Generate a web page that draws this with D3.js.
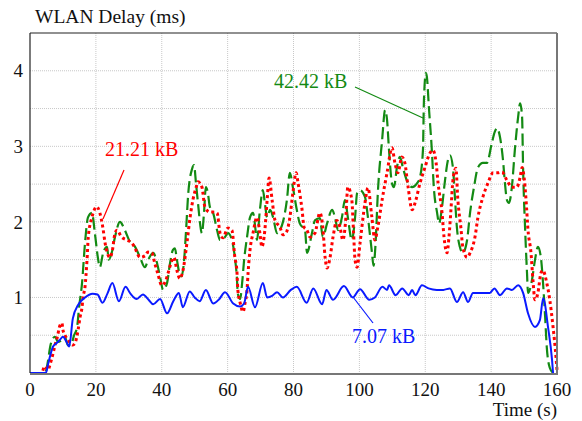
<!DOCTYPE html>
<meta charset="utf-8">
<body style="margin:0">
<svg width="582" height="421"></svg>
<script src="https://d3js.org/d3.v7.min.js"></script>
<script>

    // --- data (time in s, delay in ms) ---
    var xTicks = [0, 20, 40, 60, 80, 100, 120, 140, 160];
    var yTicks = [1, 2, 3, 4];

    var blueTime = [0, 4.8, 5.5, 7, 8.2, 9.1, 10, 11, 11.9, 13, 14.6, 16.7, 19, 20.5, 22, 23.5, 25, 27, 29, 30.5, 32.4, 34.3, 36, 37.4, 39.5, 41.6, 43.5, 45.2, 46.4, 48.5, 50, 51.5, 53.4, 55.6, 57.5, 59.2, 61.7, 63.8, 65, 66.2, 68.3, 70.7, 72, 73.5, 75, 76.8, 79.2, 81, 84, 86, 88.7, 90, 92, 95.3, 98, 100.2, 103, 104.7, 107, 108.4, 109, 111, 113, 115, 116, 117, 119, 121, 123.5, 125.5, 127.5, 129.6, 131.5, 133, 134.5, 137, 139.6, 141, 142.7, 144.8, 146.3, 148.2, 149.7, 151.2, 153.3, 154.8, 155.8, 157.3, 158.5, 158.8];
    var blueDelay = [0, 0, 0.12, 0.35, 0.4, 0.44, 0.48, 0.42, 0.35, 0.72, 0.9, 1.0, 1.05, 1.04, 0.93, 1.05, 1.19, 0.95, 1.14, 1.05, 0.98, 1.04, 0.97, 0.91, 0.98, 0.79, 0.95, 1.06, 0.87, 1.08, 1.0, 0.95, 1.1, 0.92, 0.98, 1.07, 0.92, 0.88, 0.92, 1.14, 0.87, 1.19, 1.0, 1.02, 1.07, 1.0, 1.1, 1.14, 0.93, 1.12, 0.91, 1.1, 0.97, 1.15, 1.0, 1.11, 0.97, 1.0, 1.14, 1.1, 1.16, 1.03, 1.12, 1.03, 1.1, 1.03, 1.16, 1.12, 1.1, 1.1, 1.12, 0.94, 1.07, 0.94, 1.06, 1.06, 1.06, 1.12, 1.03, 1.12, 1.1, 1.16, 1.06, 0.79, 0.61, 0.7, 0.99, 0.6, 0.17, 0];

    var redTime = [3.9, 4.5, 5.5, 6, 7, 7.6, 8.2, 9.1, 9.7, 10, 10.6, 11.5, 13, 13.7, 14.6, 15.2, 15.8, 16.1, 16.7, 17.3, 17.7, 18.8, 20.3, 21.2, 22.1, 22.8, 24.3, 25, 25.8, 26.4, 27.8, 29.4, 31, 31.9, 33.4, 34.9, 35.8, 37, 37.9, 38.9, 40, 41, 41.9, 43.1, 43.7, 44.6, 45.5, 46.4, 47.7, 48.6, 49.5, 50.4, 51, 52.2, 53.1, 54.6, 55.6, 56.8, 57.7, 58.6, 60.1, 61.3, 62.2, 62.8, 63.1, 63.8, 64.7, 65.3, 65.9, 66.2, 66.8, 67.7, 68.9, 69.8, 70.4, 71.3, 72, 72.6, 73.5, 74.4, 75.9, 76.8, 77.8, 78.9, 79.8, 80.8, 81.4, 82.6, 83.2, 84.1, 85, 86.5, 88, 88.9, 89.6, 90.2, 91.1, 92, 93.2, 94.1, 95, 95.8, 96.5, 97.7, 98.2, 98.7, 99.3, 100.2, 101.7, 102.6, 103.8, 104.7, 105.6, 106.9, 108.4, 109.9, 110.8, 111.7, 112.9, 113.8, 114.8, 116, 116.9, 118.4, 119.9, 121.4, 122.3, 123.3, 123.9, 125.1, 125.7, 126.6, 127.2, 127.8, 128.4, 129.3, 129.9, 130.8, 131.4, 132.7, 133.6, 135.1, 136, 137.5, 139, 140.6, 142.1, 143.3, 144.8, 146.3, 147.8, 148.8, 149.4, 150, 150.6, 151.2, 152.1, 152.7, 153.3, 154.2, 155.1, 155.7, 156.9, 157.8, 158.8, 159.7, 160];
    var redDelay = [0.03, 0.09, 0.04, 0.1, 0.26, 0.37, 0.46, 0.63, 0.66, 0.57, 0.5, 0.44, 0.37, 0.4, 0.57, 0.74, 0.87, 1.0, 1.14, 1.49, 1.8, 2.06, 2.2, 2.12, 1.93, 1.72, 1.53, 1.62, 1.85, 1.89, 1.8, 1.76, 1.72, 1.65, 1.53, 1.55, 1.6, 1.59, 1.45, 1.3, 1.16, 1.2, 1.32, 1.49, 1.53, 1.36, 1.25, 1.35, 1.74, 2.06, 2.3, 2.45, 2.53, 2.46, 2.2, 2.13, 2.13, 2.12, 1.85, 1.79, 1.92, 1.89, 1.53, 1.36, 1.1, 0.93, 0.81, 0.93, 1.1, 1.32, 1.63, 1.85, 2.06, 1.85, 1.67, 1.89, 2.29, 2.58, 2.29, 2.02, 1.93, 1.83, 1.86, 2.06, 2.38, 2.65, 2.51, 2.16, 1.93, 1.89, 1.8, 1.85, 2.12, 1.93, 1.53, 1.39, 1.53, 1.8, 2.02, 1.93, 1.76, 2.0, 2.46, 2.29, 1.89, 1.49, 1.4, 1.72, 2.25, 2.45, 2.06, 1.76, 1.93, 2.29, 2.65, 2.98, 2.78, 2.65, 2.86, 2.78, 2.46, 2.16, 2.25, 2.51, 2.72, 2.91, 2.95, 2.78, 2.51, 2.12, 1.8, 1.59, 1.8, 2.16, 2.55, 2.71, 2.29, 1.93, 1.67, 1.53, 1.59, 1.8, 2.06, 2.33, 2.51, 2.65, 2.65, 2.66, 2.55, 2.46, 2.46, 2.59, 2.72, 2.59, 2.29, 1.89, 1.59, 1.23, 0.97, 1.06, 1.32, 1.36, 1.19, 0.97, 0.61, 0.21, 0.04];

    var greenTime = [0, 4.6, 5, 5.5, 6.1, 6.7, 7.6, 8.5, 9.7, 10.6, 11.5, 12.4, 13.4, 14.3, 14.9, 15.8, 16.7, 17.6, 18.8, 19.7, 20.6, 21.2, 22.2, 23.4, 23.9, 24.8, 25.8, 27.3, 28.8, 30.4, 31.9, 33.4, 34.9, 35.8, 37.4, 38.6, 39.5, 40.4, 41.6, 42.5, 43.4, 44, 44.6, 45.5, 46, 46.8, 47.4, 48, 49.2, 49.8, 50.4, 51, 52.2, 52.8, 53.4, 54, 54.6, 55.6, 56.8, 57.7, 59.2, 60.1, 61.3, 62.2, 62.8, 63.1, 63.8, 64.4, 65, 65.9, 66.8, 67.7, 68.6, 68.9, 69.8, 70.7, 71.3, 72, 72.9, 73.8, 75, 75.9, 76.8, 78, 78.9, 79.8, 81, 81.9, 83.5, 84.1, 85.6, 86.5, 88, 88.9, 90.2, 91.7, 92.6, 93.5, 94.7, 95.6, 96.5, 97.7, 98.7, 99.3, 100.2, 101.7, 102.6, 103.8, 104.3, 104.9, 105.6, 106.9, 107.8, 108.4, 109, 109.9, 110.5, 111.4, 112.3, 113.2, 114.4, 116, 117.5, 118.4, 119.3, 119.6, 120.2, 120.5, 121.1, 122, 122.6, 123.6, 124.2, 125.1, 126, 126.9, 127.5, 128.4, 129, 129.6, 130.5, 131.4, 132.7, 133.6, 134.8, 136, 137.5, 138.7, 140.2, 141.1, 141.8, 142.7, 143.6, 144.2, 144.8, 145.4, 146.3, 147.2, 148.2, 148.8, 149.4, 149.7, 150.3, 150.9, 151.2, 152.4, 153.3, 154.2, 155.1, 155.7, 156.4, 156.9, 157.8, 158.8];
    var greenDelay = [0, 0, 0.05, 0.17, 0.34, 0.44, 0.48, 0.41, 0.44, 0.48, 0.37, 0.37, 0.5, 0.61, 0.87, 1.19, 1.72, 2.06, 2.12, 1.85, 1.53, 1.4, 1.59, 1.67, 1.5, 1.59, 1.8, 2.0, 1.89, 1.73, 1.67, 1.53, 1.4, 1.49, 1.59, 1.45, 1.27, 1.1, 1.19, 1.45, 1.63, 1.65, 1.5, 1.3, 1.28, 1.5, 1.9, 2.35, 2.7, 2.75, 2.51, 2.25, 1.85, 2.1, 2.46, 2.38, 2.2, 2.12, 1.89, 1.76, 1.8, 1.85, 1.76, 1.53, 1.27, 1.05, 0.98, 1.19, 1.49, 1.8, 2.06, 2.12, 1.85, 1.76, 2.16, 2.42, 2.25, 2.06, 2.16, 2.06, 1.85, 1.89, 2.0, 2.29, 2.65, 2.46, 2.16, 1.98, 1.89, 1.59, 1.85, 2.02, 2.05, 1.8, 1.98, 2.16, 2.06, 1.89, 2.06, 2.29, 2.06, 1.76, 2.06, 2.38, 2.42, 2.33, 2.06, 1.6, 1.42, 1.7, 2.38, 3.08, 3.48, 3.35, 2.95, 2.51, 2.46, 2.72, 2.86, 2.72, 2.55, 2.46, 2.51, 2.59, 2.95, 3.61, 3.97, 3.92, 3.52, 2.95, 2.46, 2.12, 1.98, 2.2, 2.55, 2.82, 2.88, 2.72, 2.33, 1.93, 1.67, 1.59, 1.76, 2.12, 2.46, 2.72, 2.78, 2.78, 3.04, 3.19, 3.24, 3.12, 2.82, 2.51, 2.29, 2.25, 2.46, 2.95, 3.39, 3.57, 3.39, 2.72, 1.93, 1.32, 1.06, 1.23, 1.49, 1.67, 1.53, 1.23, 0.74, 0.34, 0.07, 0];

    var svg = d3.select("svg"),
        margin = {top: 33, right: 25, bottom: 48, left: 30},
        width = +svg.attr("width") - margin.left - margin.right,
        height = +svg.attr("height") - margin.top - margin.bottom;

    var x = d3.scaleLinear().domain([0, 160]).range([0, width]),
        y = d3.scaleLinear().domain([0, 4.5]).range([height, 0]);

    var g = svg.append("g")
        .attr("transform", "translate(" + margin.left + "," + margin.top + ")");

    // grid: every 20 s, every 0.5 ms
    g.selectAll(".gx")
        .data(xTicks.slice(1, -1))
        .enter().append("line")
        .attr("stroke", "#c8c8c8").attr("stroke-dasharray", "1,1")
        .attr("x1", function(d) { return x(d); })
        .attr("x2", function(d) { return x(d); })
        .attr("y1", 0).attr("y2", height);
    g.selectAll(".gy")
        .data(d3.range(0.5, 4.5, 0.5))
        .enter().append("line")
        .attr("stroke", "#c8c8c8").attr("stroke-dasharray", "1,1")
        .attr("y1", function(d) { return y(d); })
        .attr("y2", function(d) { return y(d); })
        .attr("x1", 0).attr("x2", width);

    // tick labels
    g.selectAll(".xl")
        .data(xTicks)
        .enter().append("text")
        .style("font-family", "'Liberation Serif'")
        .style("font-size", "19px")
        .attr("fill", "#111")
        .attr("x", function(d) { return x(d); })
        .attr("y", height + 23)
        .attr("text-anchor", "middle")
        .text(function(d) { return d; });
    g.selectAll(".yl")
        .data(yTicks)
        .enter().append("text")
        .style("font-family", "'Liberation Serif'")
        .style("font-size", "19px")
        .attr("fill", "#111")
        .attr("x", -7)
        .attr("y", function(d) { return y(d); })
        .attr("dy", "0.35em")
        .attr("text-anchor", "end")
        .text(function(d) { return d; });

    var line = d3.line()
        .x(function(d) { return x(d[0]); })
        .y(function(d) { return y(d[1]); })
        .curve(d3.curveMonotoneX);

    g.append("path")
        .datum(d3.zip(greenTime, greenDelay))
        .attr("fill", "none")
        .attr("stroke", "#138a13")
        .attr("stroke-width", 2.2)
        .attr("stroke-dasharray", "12,5")
        .attr("d", line);

    g.append("path")
        .datum(d3.zip(redTime, redDelay))
        .attr("fill", "none")
        .attr("stroke", "#ff0000")
        .attr("stroke-width", 3)
        .attr("stroke-dasharray", "3,3")
        .attr("d", line);

    g.append("path")
        .datum(d3.zip(blueTime, blueDelay))
        .attr("fill", "none")
        .attr("stroke", "#0a1aff")
        .attr("stroke-width", 2)
        .attr("d", line);

    // frame
    g.append("line").attr("x1", 0).attr("x2", 0).attr("y1", 0).attr("y2", height)
        .attr("stroke", "#222").attr("stroke-width", 1.2);
    g.append("line").attr("x1", 0).attr("x2", width).attr("y1", 0).attr("y2", 0)
        .attr("stroke", "#222").attr("stroke-width", 1.2);
    g.append("line").attr("x1", width).attr("x2", width).attr("y1", 0).attr("y2", height + 1)
        .attr("stroke", "#777").attr("stroke-width", 2);
    g.append("line").attr("x1", 0).attr("x2", width + 1).attr("y1", height + 1).attr("y2", height + 1)
        .attr("stroke", "#777").attr("stroke-width", 2);

    // titles
    svg.append("text")
        .attr("x", 35).attr("y", 23)
        .style("font-family", "'Liberation Serif'")
        .style("font-size", "19.5px").attr("fill", "#111")
        .text("WLAN Delay (ms)");
    svg.append("text")
        .attr("x", 557).attr("y", 416)
        .attr("text-anchor", "end")
        .style("font-family", "'Liberation Serif'")
        .style("font-size", "19px").attr("fill", "#111")
        .text("Time (s)");

    // series labels with leader lines
    var labels = [
        {text: "42.42 kB", color: "#138a13", tx: 274, ty: 88, x1: 355, y1: 87, x2: 423, y2: 118},
        {text: "21.21 kB", color: "#ff0000", tx: 105, ty: 156, x1: 124, y1: 170, x2: 103, y2: 219},
        {text: "7.07 kB", color: "#0a1aff", tx: 352, ty: 343, x1: 373, y1: 323, x2: 353, y2: 297}
    ];
    labels.forEach(function(l) {
        svg.append("line")
            .attr("x1", l.x1).attr("y1", l.y1).attr("x2", l.x2).attr("y2", l.y2)
            .attr("stroke", l.color).attr("stroke-width", 1.2);
        svg.append("text")
            .attr("x", l.tx).attr("y", l.ty)
            .style("font-family", "'Liberation Serif'")
            .style("font-size", "20px").attr("fill", l.color)
            .text(l.text);
    });
</script>
